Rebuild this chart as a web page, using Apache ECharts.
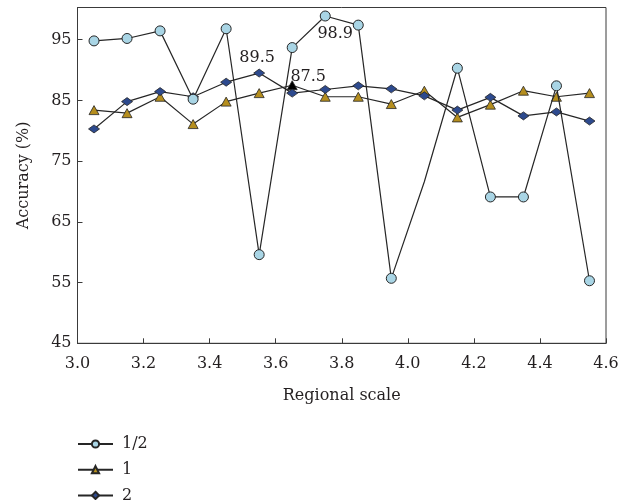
<!DOCTYPE html>
<html>
<head>
<meta charset="utf-8">
<script src="https://cdn.jsdelivr.net/npm/echarts@6/dist/echarts.min.js"></script>
<style>html,body{margin:0;padding:0;background:#fff}#c{width:632px;height:500px}</style>
</head>
<body>
<div id="c"></div>
<script>
const xValues = [3.05, 3.15, 3.25, 3.35, 3.45, 3.55, 3.65, 3.75, 3.85, 3.95, 4.05, 4.15, 4.25, 4.35, 4.45, 4.55];
const seriesNames = ['1/2', '1', '2'];
const halfValues = [94.8, 95.2, 96.45, 85.2, 96.8, 59.6, 93.7, 98.9, 97.4, 55.7, 71.6, 90.3, 69.1, 69.1, 87.4, 55.3];
const oneValues = [83.4, 82.9, 85.6, 81.1, 84.8, 86.2, 87.5, 85.6, 85.6, 84.4, 86.6, 82.2, 84.3, 86.6, 85.6, 86.2];
const twoValues = [80.3, 84.8, 86.45, 85.6, 88.0, 89.5, 86.2, 86.8, 87.4, 86.9, 85.75, 83.4, 85.5, 82.45, 83.1, 81.6];
const yTicks = [45, 55, 65, 75, 85, 95];
const xTicks = [3.0, 3.2, 3.4, 3.6, 3.8, 4.0, 4.2, 4.4, 4.6];

const FONT = '"DejaVu Serif", "Liberation Serif", serif';
const FS = 16;
const INK = '#231f20';

function pairs(vals) { return xValues.map((x, i) => [x, vals[i]]); }

const halfData = pairs(halfValues).map((p, i) => {
  const o = { value: p };
  if (i === 10) { o.symbolSize = 0; }
  if (i === 7) {
    o.label = { show: true, position: 'bottom', distance: 4, offset: [10, 0], formatter: String(halfValues[i]) };
  }
  return o;
});
const oneData = pairs(oneValues).map((p, i) => {
  const o = { value: p };
  if (i === 6) {
    o.itemStyle = { color: '#000' };
    o.label = { show: true, position: 'top', distance: 2, offset: [16, 6], formatter: String(oneValues[i]) };
  }
  return o;
});
const twoData = pairs(twoValues).map((p, i) => {
  const o = { value: p };
  if (i === 5) {
    o.label = { show: true, position: 'top', distance: 3, offset: [-2, 0], formatter: String(twoValues[i]) };
  }
  return o;
});

const labelStyle = { fontFamily: FONT, fontSize: FS, color: INK };

const chart = echarts.init(document.getElementById('c'), null, { renderer: 'canvas' });
chart.setOption({
  animation: false,
  backgroundColor: '#fff',
  textStyle: { fontFamily: FONT, color: INK },
  grid: { left: 77.5, right: 26, top: 7.5, bottom: 156.7, show: true, borderColor: '#3a3a3a', borderWidth: 1 },
  legend: {
    orient: 'vertical', left: 77, top: 430.5, height: 90, padding: [5, 5, 0, 0], itemWidth: 35, itemHeight: 9, itemGap: 8.7,
    data: seriesNames,
    textStyle: { fontFamily: FONT, fontSize: FS, color: INK, lineHeight: 17, padding: [0, 0, 0, 4] }
  },
  xAxis: {
    type: 'value', min: 3.0, max: 4.6, interval: 0.2,
    name: 'Regional scale', nameLocation: 'middle', nameGap: 45,
    nameTextStyle: { fontFamily: FONT, fontSize: FS, color: INK },
    axisLine: { lineStyle: { color: '#3a3a3a', width: 1 } },
    axisTick: { inside: true, length: 5, lineStyle: { color: '#3a3a3a' }, customValues: xTicks },
    axisLabel: { margin: 13, fontFamily: FONT, fontSize: FS, color: INK, customValues: xTicks, formatter: v => v.toFixed(1) },
    splitLine: { show: false }
  },
  yAxis: {
    type: 'value', min: 45, max: 100.3,
    name: 'Accuracy (%)', nameLocation: 'middle', nameGap: 46,
    nameTextStyle: { fontFamily: FONT, fontSize: FS, color: INK },
    axisLine: { show: true, lineStyle: { color: '#3a3a3a', width: 1 } },
    axisTick: { show: true, inside: true, length: 5, lineStyle: { color: '#3a3a3a' }, customValues: yTicks },
    axisLabel: { margin: 6, fontFamily: FONT, fontSize: FS, color: INK, customValues: yTicks },
    splitLine: { show: false }
  },
  series: [
    {
      name: '1/2', type: 'line', data: halfData, symbol: 'circle', symbolSize: 10,
      lineStyle: { color: '#262626', width: 1.2 },
      itemStyle: { color: '#a9d5e5', borderColor: '#262626', borderWidth: 1 },
      label: labelStyle, z: 3
    },
    {
      name: '1', type: 'line', data: oneData, symbol: 'triangle', symbolSize: [10, 9],
      lineStyle: { color: '#262626', width: 1.2 },
      itemStyle: { color: '#b58e1e', borderColor: '#262626', borderWidth: 0.8 },
      label: labelStyle, z: 2
    },
    {
      name: '2', type: 'line', data: twoData, symbol: 'diamond', symbolSize: [11, 8],
      lineStyle: { color: '#262626', width: 1.2 },
      itemStyle: { color: '#2d4a8e', borderColor: '#262626', borderWidth: 0.8 },
      label: labelStyle, z: 2
    }
  ]
});
</script>
</body>
</html>
